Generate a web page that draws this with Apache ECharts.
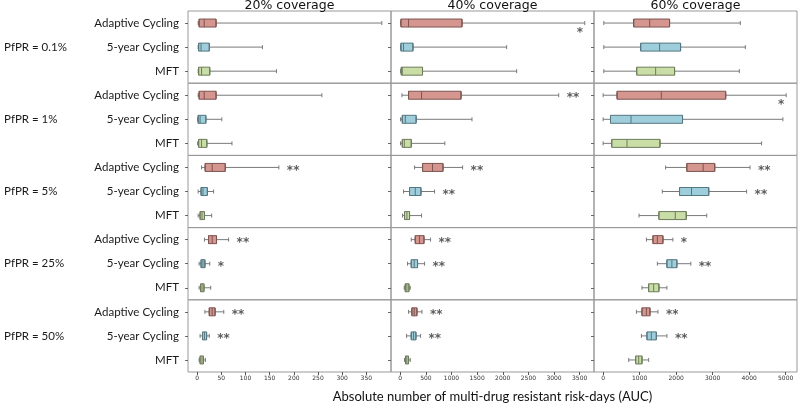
<!DOCTYPE html>
<html><head><meta charset="utf-8">
<script src="https://cdn.jsdelivr.net/npm/echarts@6/dist/echarts.min.js"></script>
<style>html,body{margin:0;padding:0;background:#fff}#c{width:800px;height:406px}</style>
</head><body><div id="c"></div>
<script>
// ---------- data ----------
const strategies = ['Adaptive Cycling', '5-year Cycling', 'MFT'];
const coverages = ['20% coverage', '40% coverage', '60% coverage'];
const pfprLabels = ['PfPR = 0.1%', 'PfPR = 1%', 'PfPR = 5%', 'PfPR = 25%', 'PfPR = 50%'];
const xTitle = 'Absolute number of multi-drug resistant risk-days (AUC)';

const ticks20 = [0, 50, 100, 150, 200, 250, 300, 350];
const ticks40 = [0, 500, 1000, 1500, 2000, 2500, 3000, 3500];
const ticks60 = [0, 1000, 2000, 3000, 4000, 5000];

// [min, Q1, median, Q3, max] for Adaptive, 5-year, MFT ; one array per panel
const p01_c20 = [[2, 4, 14.5, 39, 382], [2, 3, 8, 25, 135], [2, 3, 9, 26, 164]];
const p01_c40 = [[5, 14, 162, 1205, 3600], [5, 14, 65, 248, 2076], [5, 20, 40, 435, 2271]];
const p01_c60 = [[19, 838, 1275, 1820, 3758], [19, 1029, 1547, 2121, 3895], [19, 920, 1438, 1957, 3731]];

const p1_c20 = [[2, 4, 14.5, 39, 258], [1, 2, 6, 18, 51], [1, 3, 9, 20, 72]];
const p1_c40 = [[33, 162, 416, 1186, 3092], [5, 40, 100, 310, 1400], [5, 40, 80, 215, 870]];
const p1_c60 = [[0, 382, 1594, 3357, 5013], [0, 202, 764, 2175, 4924], [0, 237, 655, 1556, 4340]];

const p5_c20 = [[9, 16.5, 31, 58, 169], [2, 8, 12, 21, 34], [2, 6, 10, 15, 30]];
const p5_c40 = [[280, 436, 631, 834, 1217], [65, 182, 293, 404, 670], [45, 84, 130, 182, 416]];
const p5_c60 = [[1711, 2293, 2740, 3057, 4023], [1621, 2093, 2421, 2893, 3930], [983, 1528, 1976, 2276, 2838]];

const p25_c20 = [[15, 23.5, 31, 40, 65], [4, 8, 12, 16, 26], [4, 7, 10, 14, 28]];
const p25_c40 = [[215, 293, 377, 463, 592], [143, 215, 273, 338, 475], [78, 98, 130, 170, 195]];
const p25_c60 = [[1185, 1365, 1485, 1638, 1910], [1485, 1747, 1883, 2020, 2402], [1064, 1247, 1384, 1528, 1747]];

const p50_c20 = [[16, 25, 31, 37, 55], [6, 11, 15, 19.5, 25], [4, 6, 10, 13, 17]];
const p50_c40 = [[163, 228, 273, 326, 424], [123, 215, 260, 306, 397], [84, 104, 130, 162, 195]];
const p50_c60 = [[912, 1064, 1185, 1283, 1501], [1048, 1201, 1321, 1457, 1747], [701, 892, 974, 1064, 1247]];

// significance markers [coverage][strategy]
const sig_p01 = [['', '', ''], ['*', '', ''], ['', '', '']];
const sig_p1 = [['', '', ''], ['**', '', ''], ['*', '', '']];
const sig_p5 = [['**', '', ''], ['**', '**', ''], ['**', '**', '']];
const sig_p25 = [['**', '*', ''], ['**', '**', ''], ['*', '**', '']];
const sig_p50 = [['**', '**', ''], ['**', '**', ''], ['**', '**', '']];

// ---------- assembly ----------
const panels = [
  [p01_c20, p01_c40, p01_c60],
  [p1_c20, p1_c40, p1_c60],
  [p5_c20, p5_c40, p5_c60],
  [p25_c20, p25_c40, p25_c60],
  [p50_c20, p50_c40, p50_c60]
];
const sigs = [sig_p01, sig_p1, sig_p5, sig_p25, sig_p50];
const colTicks = [ticks20, ticks40, ticks60];
const colRange = [[-19, 401], [-180, 3780], [-250, 5310]];

const fills = ['#d4968f', '#9ecedb', '#c8dea6'];
const edges = ['#7d5552', '#55777f', '#6f7b5c'];
const whiskerColor = '#7a7a7a';
const labelFont = 'Lato';

const LEFT = 188, COLW = 203, TOP = 11, ROWH = 72.2;

const grid = [], xAxis = [], yAxis = [], series = [], graphic = [];

for (let r = 0; r < 5; r++) {
  for (let c = 0; c < 3; c++) {
    const gi = r * 3 + c;
    const bottomRow = r === 4;
    grid.push({
      left: LEFT + c * COLW, top: TOP + r * ROWH, width: COLW, height: ROWH,
      show: true, borderColor: '#999', borderWidth: 1, backgroundColor: 'transparent'
    });
    xAxis.push({
      type: 'value', gridIndex: gi, min: colRange[c][0], max: colRange[c][1],
      splitLine: { show: false }, axisLine: { show: false, onZero: false },
      axisTick: { show: bottomRow, length: 3, lineStyle: { color: '#555' }, customValues: colTicks[c] },
      axisLabel: { show: bottomRow, fontSize: 6, color: '#333', margin: 3, fontFamily: 'DejaVu Sans',
        customValues: colTicks[c], formatter: v => String(v) }
    });
    // box axis
    yAxis.push({
      type: 'category', gridIndex: gi, data: strategies, inverse: true,
      axisLine: { show: false, onZero: false }, splitLine: { show: false },
      axisTick: { show: true, alignWithLabel: true, length: 3, lineStyle: { color: '#666' } },
      axisLabel: { show: c === 0, fontSize: 11.5, color: '#1a1a1a', margin: 9, fontFamily: labelFont }
    });
    // whisker axis (separate so boxes are not offset)
    yAxis.push({
      type: 'category', gridIndex: gi, data: strategies, inverse: true, position: 'left',
      axisLine: { show: false, onZero: false }, axisTick: { show: false }, axisLabel: { show: false }, splitLine: { show: false }
    });
    const d = panels[r][c];
    series.push({
      type: 'boxplot', xAxisIndex: gi, yAxisIndex: gi * 2 + 1, boxWidth: [4, 4],
      silent: true, animation: false,
      itemStyle: { color: whiskerColor, borderColor: whiskerColor, borderWidth: 1 },
      data: d.map(v => v.slice())
    });
    series.push({
      type: 'boxplot', xAxisIndex: gi, yAxisIndex: gi * 2, boxWidth: [8, 8],
      silent: true, animation: false, z: 3,
      data: d.map((v, i) => ({
        value: [v[1], v[1], v[2], v[3], v[3]],
        itemStyle: { color: fills[i], borderColor: edges[i], borderWidth: 1 }
      }))
    });
    const sd = [];
    sigs[r][c].forEach((s, i) => {
      if (!s) return;
      const xmax = d[i][4];
      const below = xmax > 0.9 * colRange[c][1];
      sd.push({
        value: [xmax, i], name: s,
        label: below
          ? { position: 'bottom', distance: 4, offset: [-5, 0] }
          : { position: 'right', distance: 8, offset: [0, 3] }
      });
    });
    series.push({
      type: 'scatter', xAxisIndex: gi, yAxisIndex: gi * 2, symbolSize: 0, z: 5,
      silent: true, animation: false,
      label: { show: true, formatter: p => p.name, fontSize: 12, color: '#333', fontFamily: 'DejaVu Sans', fontWeight: 'bold' },
      data: sd
    });
  }
}

coverages.forEach((t, c) => {
  graphic.push({
    type: 'text', x: LEFT + c * COLW + COLW / 2, y: 6,
    style: { text: t, fontSize: 12.5, fontFamily: 'DejaVu Sans', fill: '#111', align: 'center', verticalAlign: 'middle', textAlign: 'center', textVerticalAlign: 'middle' }
  });
});
pfprLabels.forEach((t, r) => {
  graphic.push({
    type: 'text', x: 4, y: TOP + r * ROWH + ROWH / 2,
    style: { text: t, fontSize: 11.5, fontFamily: labelFont, fill: '#1a1a1a', align: 'left', verticalAlign: 'middle', textAlign: 'left', textVerticalAlign: 'middle' }
  });
});
graphic.push({
  type: 'text', x: LEFT + 1.5 * COLW, y: 397,
  style: { text: xTitle, fontSize: 13, fontFamily: labelFont, fill: '#111', align: 'center', verticalAlign: 'middle', textAlign: 'center', textVerticalAlign: 'middle' }
});

const chart = echarts.init(document.getElementById('c'), null, { renderer: 'canvas' });
chart.setOption({ animation: false, grid, xAxis, yAxis, series, graphic });
</script>
</body></html>
